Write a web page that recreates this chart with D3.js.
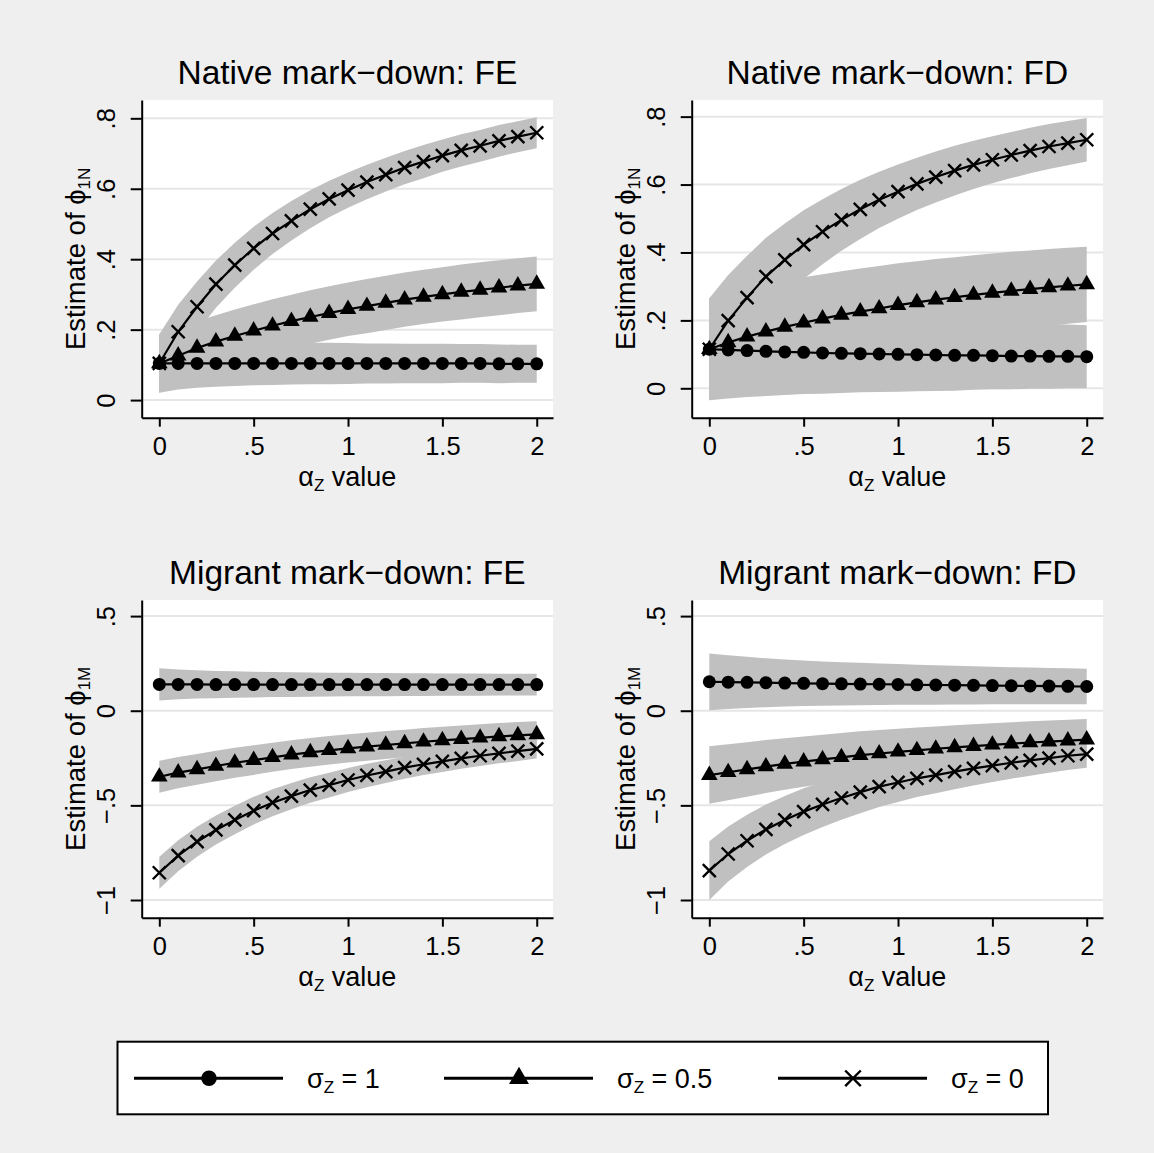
<!DOCTYPE html>
<html>
<head>
<meta charset="utf-8">
<script src="https://cdn.jsdelivr.net/npm/d3@7"></script>
<style>
  body { margin: 0; background: #efefef; }
  text { font-family: "Liberation Sans", Arial, sans-serif; fill: #000; }
</style>
</head>
<body>
<div id="chart"></div>
<script>
// alpha_z grid (x values shared by every series)
const xs = [0, 0.1, 0.2, 0.3, 0.4, 0.5, 0.6, 0.7, 0.8, 0.9, 1, 1.1, 1.2, 1.3, 1.4, 1.5, 1.6, 1.7, 1.8, 1.9, 2];

// native mark-down, FE : estimates and CI half-widths
const feN1    = [0.104,0.104,0.104,0.104,0.104,0.104,0.104,0.104,0.104,0.104,0.104,0.104,0.104,0.104,0.104,0.104,0.104,0.104,0.103,0.103,0.103];
const feN1ci  = [0.083,0.074,0.069,0.066,0.064,0.062,0.061,0.060,0.059,0.059,0.058,0.057,0.057,0.056,0.056,0.056,0.055,0.055,0.055,0.054,0.054];
const feN05   = [0.104,0.126,0.148,0.166,0.182,0.197,0.211,0.224,0.236,0.247,0.258,0.267,0.276,0.285,0.293,0.300,0.307,0.313,0.319,0.325,0.330];
const feN05ci = [0.083,0.079,0.076,0.075,0.075,0.075,0.075,0.075,0.076,0.076,0.076,0.077,0.077,0.077,0.077,0.077,0.078,0.078,0.078,0.078,0.078];
const feN0    = [0.104,0.194,0.265,0.329,0.383,0.431,0.473,0.509,0.542,0.571,0.596,0.619,0.640,0.660,0.677,0.694,0.709,0.722,0.736,0.748,0.759];
const feN0ci  = [0.083,0.077,0.072,0.067,0.064,0.061,0.058,0.056,0.054,0.052,0.050,0.049,0.048,0.047,0.047,0.046,0.046,0.045,0.045,0.044,0.044];

// native mark-down, FD
const fdN1    = [0.115,0.113,0.111,0.109,0.107,0.106,0.104,0.103,0.102,0.101,0.100,0.099,0.098,0.097,0.097,0.096,0.095,0.095,0.094,0.094,0.093];
const fdN1ci  = [0.150,0.143,0.137,0.132,0.127,0.123,0.120,0.117,0.114,0.112,0.110,0.108,0.106,0.104,0.101,0.099,0.098,0.096,0.095,0.094,0.093];
const fdN05   = [0.115,0.135,0.152,0.167,0.181,0.193,0.205,0.216,0.226,0.235,0.245,0.253,0.261,0.268,0.275,0.281,0.287,0.292,0.297,0.302,0.306];
const fdN05ci = [0.150,0.146,0.142,0.139,0.136,0.134,0.131,0.129,0.127,0.125,0.123,0.121,0.120,0.118,0.117,0.116,0.115,0.114,0.113,0.112,0.111];
const fdN0    = [0.115,0.199,0.267,0.329,0.378,0.423,0.461,0.496,0.527,0.555,0.579,0.602,0.622,0.641,0.658,0.673,0.687,0.700,0.712,0.722,0.732];
const fdN0ci  = [0.150,0.135,0.123,0.114,0.107,0.101,0.096,0.091,0.087,0.083,0.080,0.077,0.075,0.073,0.071,0.069,0.068,0.067,0.066,0.065,0.064];

// migrant mark-down, FE
const feM1    = [0.139,0.139,0.139,0.138,0.138,0.138,0.138,0.138,0.138,0.138,0.138,0.138,0.138,0.138,0.138,0.138,0.138,0.138,0.138,0.138,0.138];
const feM1ci  = [0.085,0.079,0.075,0.072,0.070,0.068,0.066,0.065,0.064,0.063,0.062,0.061,0.061,0.060,0.060,0.059,0.059,0.059,0.058,0.058,0.058];
const feM05   = [-0.349,-0.327,-0.310,-0.292,-0.275,-0.261,-0.246,-0.232,-0.220,-0.209,-0.199,-0.190,-0.181,-0.173,-0.164,-0.157,-0.150,-0.143,-0.136,-0.130,-0.125];
const feM05ci = [0.085,0.083,0.081,0.080,0.079,0.078,0.077,0.076,0.076,0.075,0.075,0.074,0.074,0.073,0.073,0.072,0.072,0.071,0.071,0.070,0.070];
const feM0    = [-0.856,-0.766,-0.692,-0.630,-0.577,-0.528,-0.486,-0.451,-0.419,-0.393,-0.366,-0.342,-0.322,-0.301,-0.283,-0.268,-0.252,-0.238,-0.225,-0.213,-0.202];
const feM0ci  = [0.085,0.082,0.079,0.077,0.075,0.073,0.071,0.069,0.067,0.065,0.063,0.062,0.060,0.058,0.057,0.056,0.055,0.054,0.053,0.052,0.051];

// migrant mark-down, FD
const fdM1    = [0.153,0.151,0.150,0.148,0.146,0.145,0.143,0.142,0.141,0.140,0.139,0.137,0.136,0.135,0.134,0.133,0.132,0.131,0.130,0.129,0.128];
const fdM1ci  = [0.150,0.142,0.135,0.129,0.124,0.120,0.117,0.114,0.112,0.110,0.108,0.106,0.104,0.102,0.101,0.099,0.098,0.097,0.096,0.095,0.094];
const fdM05   = [-0.340,-0.325,-0.310,-0.295,-0.281,-0.269,-0.257,-0.246,-0.235,-0.226,-0.217,-0.209,-0.201,-0.194,-0.187,-0.180,-0.174,-0.168,-0.163,-0.158,-0.153];
const fdM05ci = [0.152,0.148,0.144,0.140,0.136,0.133,0.130,0.128,0.126,0.124,0.122,0.120,0.118,0.117,0.115,0.114,0.113,0.112,0.111,0.110,0.109];
const fdM0    = [-0.845,-0.757,-0.687,-0.627,-0.577,-0.533,-0.495,-0.461,-0.430,-0.401,-0.379,-0.357,-0.340,-0.322,-0.305,-0.290,-0.275,-0.262,-0.250,-0.238,-0.229];
const fdM0ci  = [0.155,0.145,0.138,0.132,0.127,0.123,0.119,0.115,0.111,0.107,0.103,0.099,0.096,0.093,0.090,0.087,0.084,0.081,0.078,0.075,0.072];

// ticks
const xTicks = [0, 0.5, 1, 1.5, 2];
const xTickLabels = ["0", ".5", "1", "1.5", "2"];
const yTicksN = [0, 0.2, 0.4, 0.6, 0.8];
const yTickLabelsN = ["0", ".2", ".4", ".6", ".8"];
const yTicksM = [-1, -0.5, 0, 0.5];
const yTickLabelsM = ["\u22121", "\u2212.5", "0", ".5"];

const legendLabels = ["1", "0.5", "0"];
const markerTypes = ["circle", "triangle", "cross"];

const W = 1154, H = 1153;
const svg = d3.select("#chart").append("svg")
    .attr("width", W).attr("height", H);
svg.append("rect").attr("width", W).attr("height", H).attr("fill", "#efefef");

const panels = [
  {title: "Native mark\u2212down: FE", sub: "1N", col: 0, row: 0, ydom: [-0.050, 0.852],
   yt: yTicksN, ytl: yTickLabelsN, est: [feN1, feN05, feN0], ci: [feN1ci, feN05ci, feN0ci]},
  {title: "Native mark\u2212down: FD", sub: "1N", col: 1, row: 0, ydom: [-0.0866, 0.849],
   yt: yTicksN, ytl: yTickLabelsN, est: [fdN1, fdN05, fdN0], ci: [fdN1ci, fdN05ci, fdN0ci]},
  {title: "Migrant mark\u2212down: FE", sub: "1M", col: 0, row: 1, ydom: [-1.0935, 0.585],
   yt: yTicksM, ytl: yTickLabelsM, est: [feM1, feM05, feM0], ci: [feM1ci, feM05ci, feM0ci]},
  {title: "Migrant mark\u2212down: FD", sub: "1M", col: 1, row: 1, ydom: [-1.0935, 0.585],
   yt: yTicksM, ytl: yTickLabelsM, est: [fdM1, fdM05, fdM0], ci: [fdM1ci, fdM05ci, fdM0ci]}
];

// s scales the marker (legend keys are drawn a bit larger)
function drawMarker(sel, type, s) {
  s = s || 1;
  if (type == "circle") {
    sel.append("circle").attr("r", 6.5 * s).attr("fill", "#000");
  } else if (type == "triangle") {
    sel.append("path").attr("d", d3.symbol(d3.symbolTriangle, 120 * s * s)).attr("fill", "#000");
  } else {
    var r = 6.5 * s;
    sel.append("path").attr("d", "M" + -r + "," + -r + "L" + r + "," + r + "M" + -r + "," + r + "L" + r + "," + -r)
      .attr("stroke", "#000").attr("stroke-width", 2.4).attr("fill", "none");
  }
}

panels.forEach(function(p) {
  var L = 141.7 + p.col * 550, R = 553 + p.col * 550;
  var T = 100 + p.row * 500, B = 417.7 + p.row * 500;
  var x = d3.scaleLinear().domain([-0.0933, 2.0862]).range([L, R]);
  var y = d3.scaleLinear().domain(p.ydom).range([B, T]);
  var g = svg.append("g");

  // title
  g.append("text").attr("x", (L + R) / 2).attr("y", 84 + p.row * 500)
    .attr("text-anchor", "middle").attr("font-size", 33.5).text(p.title);

  // plot region + grid
  g.append("rect").attr("x", L).attr("y", T).attr("width", R - L).attr("height", B - T).attr("fill", "#fff");
  g.selectAll(".grid").data(p.yt).enter().append("line")
    .attr("x1", L).attr("x2", R).attr("y1", d => y(d)).attr("y2", d => y(d))
    .attr("stroke", "#e6e6e6").attr("stroke-width", 2);

  // series data rows
  var rows = p.est.map((e, k) => xs.map((xv, i) => ({x: xv, v: e[i], lo: e[i] - p.ci[k][i], hi: e[i] + p.ci[k][i]})));

  var area = d3.area().x(d => x(d.x)).y0(d => y(d.lo)).y1(d => y(d.hi));
  rows.forEach(function(r) {
    g.append("path").datum(r).attr("d", area).attr("fill", "#c0c0c0");
  });

  var line = d3.line().x(d => x(d.x)).y(d => y(d.v));
  rows.forEach(function(r, k) {
    g.append("path").datum(r).attr("d", line).attr("fill", "none")
      .attr("stroke", "#000").attr("stroke-width", 2.2);
    g.selectAll(".m" + k).data(r).enter().append("g")
      .attr("transform", d => "translate(" + x(d.x) + "," + y(d.v) + ")")
      .each(function() { drawMarker(d3.select(this), markerTypes[k]); });
  });

  // y axis
  var ya = g.append("g").attr("transform", "translate(" + L + ",0)")
    .call(d3.axisLeft(y).tickValues(p.yt).tickFormat((d, i) => p.ytl[i]).tickSize(11).tickSizeOuter(0));
  ya.select(".domain").attr("stroke-width", 2);
  ya.selectAll(".tick line").attr("stroke-width", 2);
  ya.selectAll(".tick text").attr("font-size", 25.5).attr("font-family", "Liberation Sans, Arial, sans-serif")
    .attr("x", 0).attr("y", -26.7).attr("dy", 0).attr("text-anchor", "middle")
    .attr("transform", "rotate(-90)");

  // x axis
  var xa = g.append("g").attr("transform", "translate(0," + B + ")")
    .call(d3.axisBottom(x).tickValues(xTicks).tickFormat((d, i) => xTickLabels[i]).tickSize(9).tickSizeOuter(0));
  xa.select(".domain").attr("stroke-width", 2);
  xa.selectAll(".tick line").attr("stroke-width", 2);
  xa.selectAll(".tick text").attr("font-size", 25.5).attr("font-family", "Liberation Sans, Arial, sans-serif")
    .attr("y", 37.5).attr("dy", 0);

  // axis titles
  var xt = g.append("text").attr("x", (L + R) / 2).attr("y", B + 68)
    .attr("text-anchor", "middle").attr("font-size", 27);
  xt.append("tspan").text("\u03b1");
  xt.append("tspan").attr("font-size", 17).attr("dy", 5).text("Z");
  xt.append("tspan").attr("dy", -5).text(" value");

  var yt = g.append("text").attr("transform", "translate(" + (L - 56.7) + "," + (T + B) / 2 + ") rotate(-90)")
    .attr("text-anchor", "middle").attr("font-size", 27.5);
  yt.append("tspan").text("Estimate of \u03d5");
  yt.append("tspan").attr("font-size", 17).attr("dy", 5).text(p.sub);
});

// legend: key columns start where Stata put them (text widths differ)
const legKeyX = [134, 444, 778];
var lg = svg.append("g");
lg.append("rect").attr("x", 117.5).attr("y", 1041.7).attr("width", 930.5).attr("height", 72.6)
  .attr("fill", "#fff").attr("stroke", "#000").attr("stroke-width", 2);
legendLabels.forEach(function(lab, k) {
  var x0 = legKeyX[k];
  lg.append("line").attr("x1", x0).attr("x2", x0 + 149).attr("y1", 1078.3).attr("y2", 1078.3)
    .attr("stroke", "#000").attr("stroke-width", 3);
  var m = lg.append("g").attr("transform", "translate(" + (x0 + 75) + ",1078.3)");
  drawMarker(m, markerTypes[k], 1.2);
  var t = lg.append("text").attr("x", x0 + 173).attr("y", 1088).attr("font-size", 27);
  t.append("tspan").text("\u03c3");
  t.append("tspan").attr("font-size", 17).attr("dy", 5).text("Z");
  t.append("tspan").attr("dy", -5).text(" = " + lab);
});
</script>
</body>
</html>
